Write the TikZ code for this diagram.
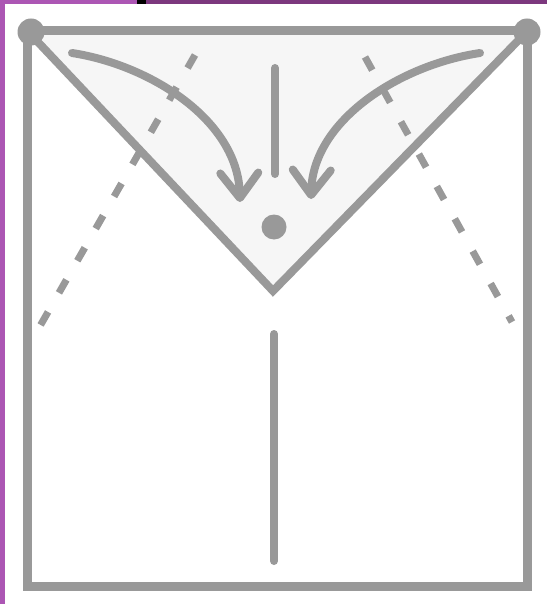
\documentclass[tikz,border=0pt]{standalone}
\usepackage{amssymb,amsmath,tikz}
\usetikzlibrary{arrows.meta}
\definecolor{fold}{RGB}{153,153,153}
\definecolor{flap}{RGB}{246,246,246}
\definecolor{lilac}{RGB}{172,86,180}
\definecolor{plum}{RGB}{124,56,126}

\begin{document}
\begin{tikzpicture}[x=1pt,y=-1pt]
\tikzstyle{vertex}=[circle,fill=fold,minimum size=27pt,inner sep=0pt]
\tikzstyle{side}=[draw=fold,line width=9pt]
\tikzstyle{crease}=[draw=fold,line width=8pt,line cap=round]
\tikzstyle{valley}=[draw=fold,line width=7pt,dash pattern=on 15pt off 22pt]
\tikzstyle{edge}=[draw=fold,line width=8pt,line cap=round,-{Straight Barb[length=25pt,width=38pt,round]}]
\useasboundingbox (0,0) rectangle (547,604);
\fill[white] (0,0) rectangle (547,604);
% frame of the page
\fill[lilac] (0,0) rectangle (5,604);
\fill[lilac] (0,0) rectangle (137,4);
\fill[black] (137,0) rectangle (146,4);
\fill[plum] (146,0) rectangle (547,4);
    % sheet
    \coordinate (1) at (27.5,31);
    \coordinate (2) at (527.5,31);
    \coordinate (3) at (527.5,586);
    \coordinate (4) at (27.5,586);
    \coordinate (5) at (273,291);
    \fill[flap] (1) -- (2) -- (5) -- cycle;
    % valley folds
    \coordinate (6) at (195,55);
    \coordinate (7) at (40,326);
    \coordinate (8) at (365,57);
    \coordinate (9) at (512,322);
    \path (6) edge [valley] (7);
    \path (8) edge [valley] (9);
    \draw[side] (1) -- (2) -- (3) -- (4) -- cycle;
    \draw[crease,line cap=butt,line join=miter] (1) -- (5) -- (2);
    % middle lines
    \coordinate (10) at (275,68);
    \coordinate (11) at (275,174);
    \coordinate (12) at (274,334);
    \coordinate (13) at (274,561);
    \path (10) edge [crease] (11);
    \path (12) edge [crease] (13);
    % arrows
    \coordinate (14) at (72,53);
    \coordinate (15) at (240,202);
    \coordinate (16) at (480,53);
    \coordinate (17) at (311,199);
    \draw[edge] (14) .. controls (150,65) and (238,120) .. (15);
    \draw[edge] (16) .. controls (400,65) and (313,120) .. (17);
    \node[vertex] (18) at (31,32) {};
    \node[vertex] (19) at (527,32) {};
    \node[vertex,minimum size=25pt] (20) at (274,227) {};
\end{tikzpicture}
\end{document}
